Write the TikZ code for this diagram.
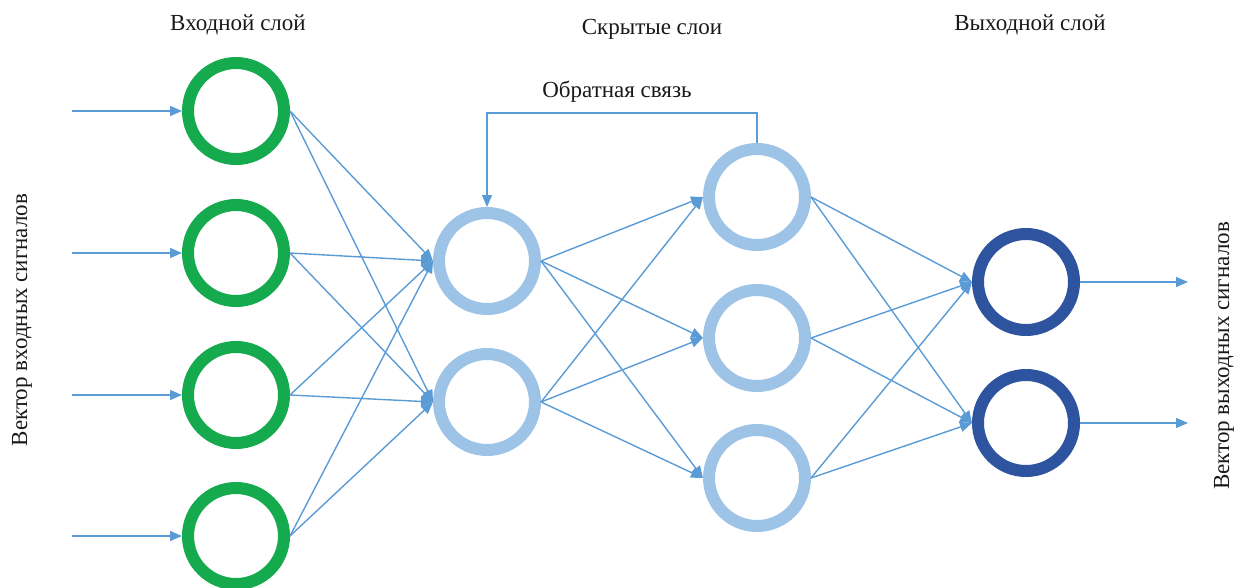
\documentclass[tikz,border=0pt]{standalone}
\usepackage{fontspec}
\setmainfont{Liberation Serif}
\usetikzlibrary{arrows.meta}

\definecolor{ringgreen}{HTML}{16AA4E}
\definecolor{ringlight}{HTML}{9DC3E6}
\definecolor{ringdark}{HTML}{2E54A0}
\definecolor{linkblue}{HTML}{5B9BD5}

\tikzset{
  neuron/.style={circle, minimum size=96pt, line width=12pt, fill=white, inner sep=0pt},
  innode/.style={neuron, draw=ringgreen},
  hidnode/.style={neuron, draw=ringlight},
  outnode/.style={neuron, draw=ringdark},
  link/.style={draw=linkblue, line width=1.4pt, -{Triangle[length=12pt,width=10pt]}},
  caption/.style={font=\fontsize{23}{27}\selectfont, text=black!90, inner sep=0pt},
}

\begin{document}
\begin{tikzpicture}[x=1pt, y=-1pt]
  \useasboundingbox (0,0) rectangle (1238,588);

  % layer titles
  \node[caption] (tin)  at (238,25) {Входной слой};
  \node[caption] (thid) at (652,29) {Скрытые слои};
  \node[caption] (tout) at (1030,25) {Выходной слой};
  \node[caption] (tfb)  at (617,92) {Обратная связь};

  % side labels
  \node[caption, rotate=90] (vin)  at (22,320)   {Вектор входных сигналов};
  \node[caption, rotate=90] (vout) at (1224,356) {Вектор выходных сигналов};

  % neurons
  \node[innode] (i1) at (236,111) {};
  \node[innode] (i2) at (236,253) {};
  \node[innode] (i3) at (236,395) {};
  \node[innode] (i4) at (236,536) {};

  \node[hidnode] (h1) at (487,261) {};
  \node[hidnode] (h2) at (487,402) {};

  \node[hidnode] (g1) at (757,197) {};
  \node[hidnode] (g2) at (757,338) {};
  \node[hidnode] (g3) at (757,478) {};

  \node[outnode] (o1) at (1026,282) {};
  \node[outnode] (o2) at (1026,423) {};

  % free ends of the input and output signals
  \coordinate (s1) at (72,111);
  \coordinate (s2) at (72,253);
  \coordinate (s3) at (72,395);
  \coordinate (s4) at (72,536);
  \coordinate (r1) at (1188,282);
  \coordinate (r2) at (1188,423);

  % input signals
  \foreach \k in {1,...,4} \draw[link] (s\k) -- (i\k.west);

  % input layer -> first hidden layer
  \foreach \a in {1,...,4}
    \foreach \b in {1,2}
      \draw[link] (i\a.east) -- (h\b.west);

  % first hidden layer -> second hidden layer
  \foreach \a in {1,2}
    \foreach \b in {1,2,3}
      \draw[link] (h\a.east) -- (g\b.west);

  % second hidden layer -> output layer
  \foreach \a in {1,2,3}
    \foreach \b in {1,2}
      \draw[link] (g\a.east) -- (o\b.west);

  % output signals
  \draw[link] (o1.east) -- (r1);
  \draw[link] (o2.east) -- (r2);

  % feedback loop
  \draw[link] (g1.north) -- ++(0,-30) -| (h1.north);
\end{tikzpicture}
\end{document}
